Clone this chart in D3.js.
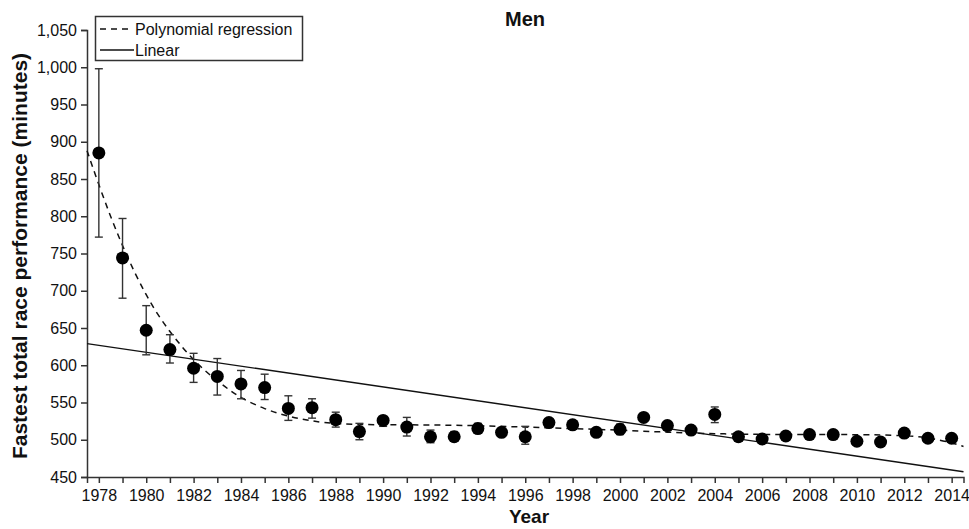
<!DOCTYPE html>
<html>
<head>
<meta charset="utf-8">
<script src="https://cdn.jsdelivr.net/npm/d3@7"></script>
<style>
  html, body { margin: 0; padding: 0; background: #fff; }
  svg { display: block; font-family: "Liberation Sans", Arial, sans-serif; }
</style>
</head>
<body>
<svg id="chart" width="969" height="529"></svg>
<script>
// ---- data ----
const years = [1978,1979,1980,1981,1982,1983,1984,1985,1986,1987,1988,1989,1990,1991,1992,1993,1994,1995,1996,1997,1998,1999,2000,2001,2002,2003,2004,2005,2006,2007,2008,2009,2010,2011,2012,2013,2014];
const means = [885,744,647,621,596,585,575,570,542,543,527,511,526,517,504,504,515,510,504,523,520,510,514,530,519,513,534,504,501,505,507,507,498,497,509,502,502];
const errHigh = [998,797,680,641,616,609,593,588,559,555,537,522,531,530,513,511,522,514,518,527,525,514,521,534,523,516,544,507,504,508,510,510,502,500,512,505,505];
const errLow = [772,690,614,603,577,560,555,554,526,529,517,500,518,505,496,498,509,506,494,519,514,505,507,526,515,509,523,501,498,502,504,504,494,494,505,499,499];

const polyYears = [1977.5,1978,1978.5,1979,1979.5,1980,1980.5,1981,1981.5,1982,1982.5,1983,1983.5,1984,1985,1986,1987,1988,1990,1992,1994,1996,1998,2000,2002,2004,2006,2008,2010,2012,2013,2014,2014.5];
const polyValues = [888,842,799,760,725,694,667,645,625,607,592,579,567,556,541,531,525,521,520,520,519,517,515,513,510,508,507,507,507,506,503,496,491];

const linearYears = [1977.5, 2014.5];
const linearValues = [629, 457];

const yTicks = [450,500,550,600,650,700,750,800,850,900,950,1000,1050];
const xTickYears = d3.range(1978, 2015);
const xLabelYears = d3.range(1978, 2015, 2);

const titleText = "Men";
const xLabel = "Year";
const yLabel = "Fastest total race performance (minutes)";
const legendLabels = ["Polynomial regression", "Linear"];

// ---- layout ----
const svg = d3.select("#chart");
const x = d3.scaleLinear().domain([1977.5, 2014.5]).range([87, 963.5]);
const y = d3.scaleLinear().domain([450, 1050]).range([477, 30]);
const ink = "#111";

// axes
const yAxis = d3.axisLeft(y).tickValues(yTicks).tickFormat(d3.format(",")).tickSizeOuter(0).tickSize(6).tickPadding(4);
const gy = svg.append("g").attr("transform", `translate(${x.range()[0]},0)`).call(yAxis);
gy.selectAll("text").style("font-size", "16px").attr("fill", ink);
gy.selectAll("line,path").attr("stroke", "#333").attr("stroke-width", 1.5);

const xAxis = d3.axisBottom(x).tickValues(xTickYears)
  .tickFormat(d => xLabelYears.includes(d) ? String(d) : "")
  .tickSizeOuter(0).tickSize(6).tickPadding(7);
const gx = svg.append("g").attr("transform", `translate(0,${y.range()[0]})`).call(xAxis);
gx.selectAll("text").style("font-size", "16px").attr("fill", ink);
gx.selectAll("line,path").attr("stroke", "#333").attr("stroke-width", 1.5);

// linear
const line = d3.line().x(d => x(d[0])).y(d => y(d[1]));
svg.append("path")
  .datum(linearYears.map((yr, i) => [yr, linearValues[i]]))
  .attr("d", line).attr("fill", "none").attr("stroke", ink).attr("stroke-width", 1.4);

// polynomial
svg.append("path")
  .datum(polyYears.map((yr, i) => [yr, polyValues[i]]))
  .attr("d", d3.line().x(d => x(d[0])).y(d => y(d[1])).curve(d3.curveBasis))
  .attr("fill", "none").attr("stroke", ink).attr("stroke-width", 1.5)
  .attr("stroke-dasharray", "6,5");

// error bars
const eb = svg.append("g").attr("stroke", "#333").attr("stroke-width", 1.4);
years.forEach((yr, i) => {
  const cx = x(yr);
  eb.append("line").attr("x1", cx).attr("x2", cx).attr("y1", y(errHigh[i])).attr("y2", y(errLow[i]));
  eb.append("line").attr("x1", cx - 4).attr("x2", cx + 4).attr("y1", y(errHigh[i])).attr("y2", y(errHigh[i]));
  eb.append("line").attr("x1", cx - 4).attr("x2", cx + 4).attr("y1", y(errLow[i])).attr("y2", y(errLow[i]));
});

// points
svg.append("g").selectAll("circle").data(years).join("circle")
  .attr("cx", d => x(d)).attr("cy", (d, i) => y(means[i])).attr("r", 6.5).attr("fill", "#000");

// title and labels
svg.append("text").attr("x", 525).attr("y", 26).attr("text-anchor", "middle")
  .style("font-size", "20px").style("font-weight", "bold").attr("fill", ink).text(titleText);
svg.append("text").attr("x", 529).attr("y", 523).attr("text-anchor", "middle")
  .style("font-size", "19px").style("font-weight", "bold").attr("fill", ink).text(xLabel);
svg.append("text").attr("transform", "translate(27,256) rotate(-90)").attr("text-anchor", "middle")
  .style("font-size", "21px").style("font-weight", "bold").attr("fill", ink).text(yLabel);

// legend
const lg = svg.append("g");
lg.append("rect").attr("x", 95.5).attr("y", 16.5).attr("width", 207).attr("height", 44)
  .attr("fill", "#fff").attr("stroke", "#333").attr("stroke-width", 1.5);
lg.append("line").attr("x1", 100).attr("x2", 128).attr("y1", 29).attr("y2", 29)
  .attr("stroke", ink).attr("stroke-width", 1.5).attr("stroke-dasharray", "6,5");
lg.append("line").attr("x1", 100).attr("x2", 134).attr("y1", 50).attr("y2", 50)
  .attr("stroke", ink).attr("stroke-width", 1.4);
lg.append("text").attr("x", 135).attr("y", 35).style("font-size", "16px").attr("fill", ink).text(legendLabels[0]);
lg.append("text").attr("x", 135).attr("y", 56).style("font-size", "16px").attr("fill", ink).text(legendLabels[1]);
</script>
</body>
</html>
